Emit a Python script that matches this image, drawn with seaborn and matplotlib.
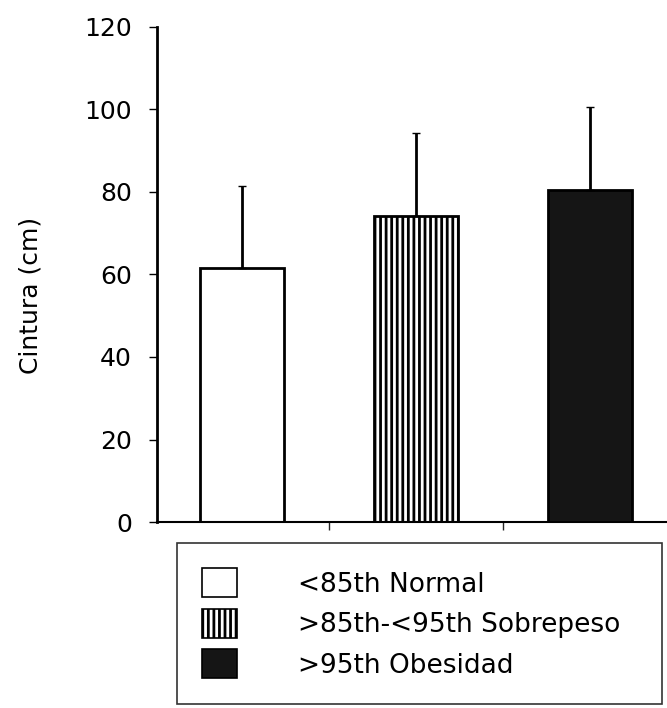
import pandas as pd
import seaborn as sns
import matplotlib.pyplot as plt
from matplotlib.patches import Patch

# Datos
grupos = ["<85th Normal", ">85th-<95th Sobrepeso", ">95th Obesidad"]
cintura_media = [61.6, 74.2, 80.6]
cintura_de = [19.9, 20.1, 20.0]
rellenos = ["white", "white", "#151515"]
tramas = ["", "|||", ""]

df = pd.DataFrame({"grupo": grupos, "cintura": cintura_media})

sns.set_style("ticks")
plt.rcParams["font.family"] = ["DejaVu Sans"]
plt.rcParams["hatch.linewidth"] = 2.0
plt.rcParams["hatch.color"] = "black"

fig = plt.figure(figsize=(6.67, 7.08), dpi=100)
ax = fig.add_axes([0.2354, 0.2627, 0.7646, 0.6992])

sns.barplot(data=df, x="grupo", y="cintura", hue="grupo", palette=rellenos,
            width=0.483, edgecolor="black", linewidth=2, legend=False, ax=ax)
for barra, relleno, trama in zip(ax.patches, rellenos, tramas):
    barra.set_facecolor(relleno)
    barra.set_hatch(trama)

# Barras de error (solo hacia arriba)
ax.errorbar(range(len(grupos)), cintura_media,
            yerr=[[0] * len(grupos), cintura_de],
            fmt="none", ecolor="black", elinewidth=2, capsize=3, capthick=1)

ax.set_xlim(-0.489, 2.443)
ax.set_ylim(0, 120)
ax.set_yticks([0, 20, 40, 60, 80, 100, 120])
ax.set_xticks([0.5, 1.5])
ax.set_xticklabels([])
ax.set_xlabel("")
ax.set_ylabel("Cintura (cm)", fontsize=18, color="black")
ax.yaxis.set_label_coords(-0.225, 0.457)
ax.tick_params(axis="y", labelsize=18, length=6, width=1, pad=12, colors="black")
ax.tick_params(axis="x", length=6, width=1)
sns.despine(ax=ax)
ax.spines["left"].set_linewidth(2)
ax.spines["bottom"].set_linewidth(1.5)
ax.spines["left"].set_color("black")
ax.spines["bottom"].set_color("black")

handles = [Patch(facecolor=c, edgecolor="black", hatch=h, linewidth=1.2)
           for c, h in zip(rellenos, tramas)]
leg = fig.legend(handles, grupos, loc="upper left", mode="expand",
                 bbox_to_anchor=(177 / 667, 3 / 708, 485 / 667, 162 / 708),
                 fontsize=19, frameon=True, fancybox=False, borderaxespad=0,
                 handlelength=1.33, handleheight=1.33, handletextpad=2.3,
                 labelspacing=0.42, borderpad=0.95, labelcolor="black")
leg.get_frame().set_edgecolor("black")
leg.get_frame().set_linewidth(1.2)

plt.savefig("out.png", dpi=100)
